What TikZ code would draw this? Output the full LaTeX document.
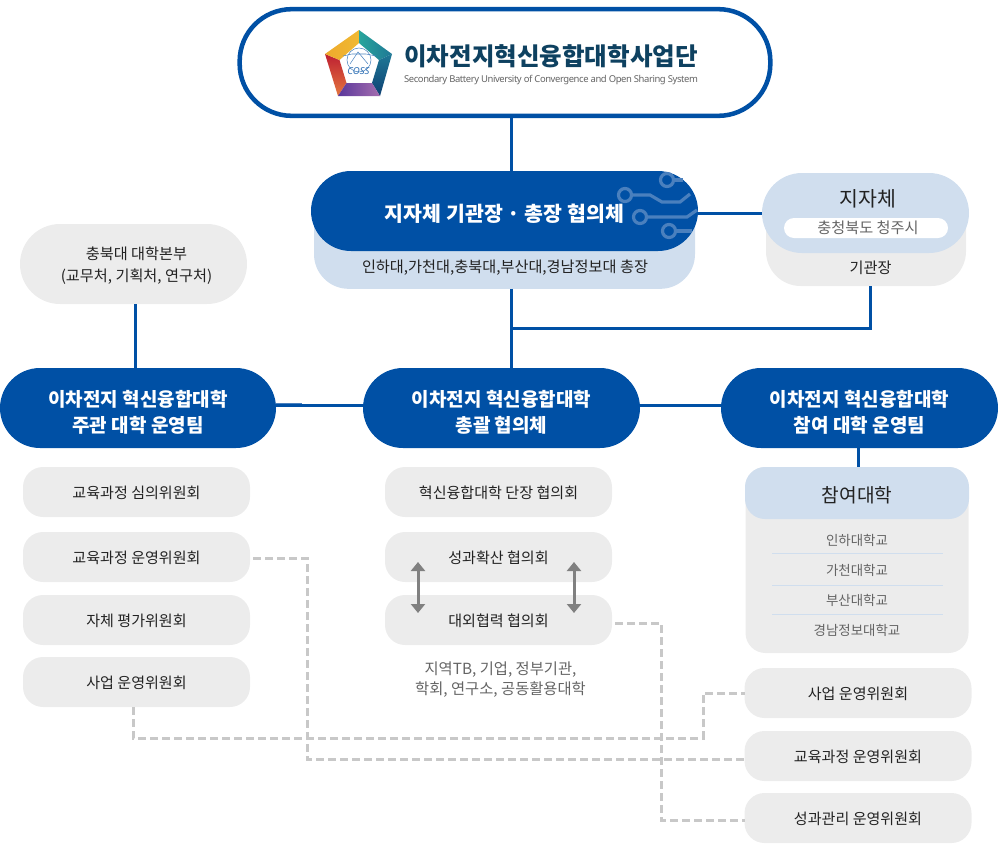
\documentclass[tikz,border=0pt]{standalone}
\usepackage{fontspec}
\setmainfont{Noto Sans CJK KR}
\newfontfamily\latinfont{Noto Sans}
\newfontfamily\latintight[LetterSpace=-4.5]{Noto Sans}
\usetikzlibrary{arrows.meta}

\definecolor{deepblue}{RGB}{0,80,165}
\definecolor{traceblue}{RGB}{74,128,190}
\definecolor{paleblue}{RGB}{208,222,238}
\definecolor{panelgrey}{RGB}{236,236,236}
\definecolor{dashgrey}{RGB}{200,200,200}
\definecolor{arrowgrey}{RGB}{128,128,128}
\definecolor{inkdark}{RGB}{34,34,34}
\definecolor{inkgrey}{RGB}{100,100,100}
\definecolor{titleink}{RGB}{14,65,96}
\definecolor{logored}{RGB}{190,32,50}
\definecolor{logopeach}{RGB}{228,118,62}
\definecolor{logoamber}{RGB}{238,170,45}
\definecolor{logogold}{RGB}{240,185,50}
\definecolor{logoteal}{RGB}{40,165,155}
\definecolor{logosea}{RGB}{30,120,150}
\definecolor{logonavy}{RGB}{15,65,115}
\definecolor{logoplum}{RGB}{90,55,155}
\definecolor{logomauve}{RGB}{165,110,175}

\tikzset{every picture/.style={line width=0.75pt}}
\tikzset{
  pill/.style={inner sep=0pt,outer sep=0pt,align=center,minimum height=60pt,rounded corners=30pt},
  bluepill/.style={pill,fill=deepblue,text=white,text height=38pt,font=\fontsize{14.25}{19.5}\selectfont\bfseries},
  backpanel/.style={inner sep=0pt,outer sep=0pt,rounded corners=26pt},
  smallbox/.style={inner sep=0pt,outer sep=0pt,fill=panelgrey,rounded corners=15pt,minimum width=170.25pt,minimum height=37.5pt,text height=10.5pt,text depth=1pt,text=inkdark,font=\fontsize{11.3}{14}\selectfont},
  link/.style={deepblue,line width=2.25pt},
  dashlink/.style={dashgrey,line width=2.25pt,dash pattern={on 6pt off 3pt}},
  swaplink/.style={arrowgrey,line width=2.25pt,{Triangle[width=10.5pt,length=6.75pt]}-{Triangle[width=10.5pt,length=6.75pt]}},
  schoolname/.style={inner sep=0pt,text=inkgrey,font=\fontsize{10.1}{12}\selectfont},
  trace/.style={traceblue,line width=2.4pt},
  tracemark/.pic={
    \draw [trace] (244.5,399) -- (262,399) -- (276,408);
    \draw [trace] (259.5,421) -- (275,421);
    \draw [trace] (238,399) circle [radius=6.5];
    \draw [trace] (253,421) circle [radius=6.5];
  },
}

\begin{document}
\begin{tikzpicture}[x=0.75pt,y=0.75pt,yscale=-1,xscale=1]
\useasboundingbox (0,0) rectangle (1000,850);

%Shape: Top pill
\draw (505,62.5) node (topPill) [pill,draw=deepblue,fill=white,line width=3.4pt,minimum width=398pt,minimum height=80pt,rounded corners=39pt] {};

%Shape: Logo
\shade [top color=logored,bottom color=logopeach] (325,54) -- (339.5,60) -- (346.5,83) -- (338,96) -- cycle;
\shade [left color=logoamber,right color=logogold] (325,54) -- (359,30) -- (359,43) -- (339.5,60) -- cycle;
\shade [left color=logoteal,right color=logosea] (359,30) -- (392,54) -- (379,60) -- (359,43) -- cycle;
\shade [top color=logosea,bottom color=logonavy] (392,54) -- (380,96) -- (372,83) -- (379,60) -- cycle;
\shade [left color=logoplum,right color=logomauve] (346.5,83) -- (372,83) -- (380,96) -- (338,96) -- cycle;
\draw [deepblue!70,line width=0.4pt] (359,60) circle [radius=12];
\draw [deepblue!70,line width=0.4pt] (343,56) -- (352,54) -- (366,54) -- (376,56);
\draw [deepblue!70,line width=0.4pt] (350,64) -- (358,52) -- (368,64);
\draw (358.5,71) node (logoMark) [inner sep=0pt,text=deepblue!80,font=\latinfont\fontsize{7.2}{7}\selectfont\bfseries\itshape] {COSS};

% Text Node
\draw (551,56) node (titleText) [inner sep=0pt,text=titleink,font=\fontsize{18.4}{20}\selectfont\bfseries] {이차전지혁신융합대학사업단};
% Text Node
\draw (551,80) node (titleSub) [inner sep=0pt,text=inkgrey,font=\latintight\fontsize{7.1}{8}\selectfont] {Secondary Battery University of Convergence and Open Sharing System};

%Shape: Heads council
\draw (504.5,239.5) node (headsBack) [backpanel,fill=paleblue,minimum width=285.75pt,minimum height=74pt] {};
\draw (504.5,211) node (headsPill) [bluepill,minimum width=290.25pt,text height=17pt,font=\fontsize{15.4}{20}\selectfont\bfseries] {지자체 기관장 · 총장 협의체};
\draw (505,268) node (headsNote) [inner sep=0pt,text=inkdark,font=\fontsize{11.4}{14}\selectfont] {인하대,가천대,충북대,부산대,경남정보대 총장};
%Shape: Traces
\draw [trace] (631.5,195) -- (650,195) -- (662,202) -- (680,202) -- (690,194);
\draw [trace] (646.5,217) -- (687,217) -- (697,210);
\draw [trace] (673.5,180) -- (683,180);
\draw [trace] (675.5,231) -- (692,231);
\draw [trace] (625,195) circle [radius=6.5];
\draw [trace] (640,217) circle [radius=6.5];
\draw [trace] (667,180) circle [radius=6.5];
\draw [trace] (669,231) circle [radius=6.5];

%Shape: Local government
\draw (866,238) node (localBack) [backpanel,fill=panelgrey,minimum width=150pt,minimum height=72pt] {};
\draw (865.5,213) node (localPill) [pill,fill=paleblue,minimum width=155.25pt] {};
% Text Node
\draw (868,199) node (localName) [inner sep=0pt,text=inkdark,font=\fontsize{15.4}{18}\selectfont] {지자체};
\draw (866,228) node (localCity) [inner sep=0pt,outer sep=0pt,fill=white,rounded corners=7.5pt,minimum width=123pt,minimum height=15pt] {};
% Text Node
\draw (868,228) node (localCityName) [inner sep=0pt,text=inkgrey,font=\fontsize{11.4}{14}\selectfont] {충청북도 청주시};
\draw (870.5,268) node (localHead) [inner sep=0pt,text=inkdark,font=\fontsize{11.4}{14}\selectfont] {기관장};

%Shape: Main campus
\draw (133.5,264) node (mainOffice) [pill,fill=panelgrey,minimum width=170.25pt] {};
% Text Node
\draw (136.5,265.5) node (mainOfficeName) [inner sep=0pt,align=center,text=inkdark,font=\fontsize{11.4}{16.5}\selectfont] {충북대 대학본부\\(교무처, 기획처, 연구처)};

%Shape: Three teams
\draw (138,408) node (hostTeam) [bluepill,minimum width=207pt] {이차전지 혁신융합대학\\주관 대학 운영팀};
\draw (501.5,408) node (hubTeam) [bluepill,minimum width=207.75pt] {이차전지 혁신융합대학\\총괄 협의체};
\draw (859.5,408) node (partTeam) [bluepill,minimum width=207.75pt] {이차전지 혁신융합대학\\참여 대학 운영팀};
\pic at (0,0) {tracemark};
\pic at (363,0) {tracemark};
\pic at (721,0) {tracemark};

%Shape: Left column
\draw (136.5,492) node (hostCurr) [smallbox] {교육과정 심의위원회};
\draw (136.5,557) node (hostEdu) [smallbox] {교육과정 운영위원회};
\draw (136.5,620) node (hostEval) [smallbox] {자체 평가위원회};
\draw (136.5,682) node (hostBiz) [smallbox] {사업 운영위원회};

%Shape: Middle column
\draw (498.5,492) node (hubDean) [smallbox] {혁신융합대학 단장 협의회};
\draw (498.5,557) node (hubSpread) [smallbox] {성과확산 협의회};
\draw (498.5,620) node (hubOuter) [smallbox] {대외협력 협의회};
% Text Node
\draw (500.5,680) node (hubNote) [inner sep=0pt,align=center,text=inkgrey,font=\fontsize{11.5}{15}\selectfont] {지역TB, 기업, 정부기관,\\학회, 연구소, 공동활용대학};

%Shape: Partner schools
\draw (857,560) node (schoolBack) [inner sep=0pt,outer sep=0pt,fill=panelgrey,rounded corners=15pt,minimum width=167.25pt,minimum height=139.5pt] {};
\draw (857,493) node (schoolHead) [inner sep=0pt,outer sep=0pt,fill=paleblue,rounded corners=15pt,minimum width=168pt,minimum height=39pt] {};
% Text Node
\draw (857,495) node (schoolTitle) [inner sep=0pt,text=inkdark,font=\fontsize{14.4}{18}\selectfont] {참여대학};
\draw (857,540.5) node (schoolA) [schoolname] {인하대학교};
\draw (857,570.5) node (schoolB) [schoolname] {가천대학교};
\draw (857,600.5) node (schoolC) [schoolname] {부산대학교};
\draw (857,630.5) node (schoolD) [schoolname] {경남정보대학교};
\draw [paleblue,line width=0.75pt] (772,553.5) -- (943,553.5);
\draw [paleblue,line width=0.75pt] (772,585.5) -- (943,585.5);
\draw [paleblue,line width=0.75pt] (772,614.5) -- (943,614.5);

%Shape: Right column
\draw (858,693) node (partBiz) [smallbox] {사업 운영위원회};
\draw (858,756) node (partEdu) [smallbox] {교육과정 운영위원회};
\draw (858,818) node (partEval) [smallbox] {성과관리 운영위원회};

%Straight Lines
\coordinate (hubLine) at (511,328);
\coordinate (localLine) at (870,328);
\draw [link] (topPill.south -| hubLine) -- (headsPill.north -| hubLine);
\draw [link] (headsBack.south -| hubLine) -- (hubTeam.north -| hubLine);
\draw [link] (headsPill.east |- localPill.center) -- (localPill.west);
\draw [link] (localBack.south -| localLine) -- (localLine) -- (hubLine);
\draw [link] (mainOffice.south -| 135,0) -- (hostTeam.north -| 135,0);
\draw [link] (hostTeam.east |- 0,405) -- (hubTeam.west |- 0,405);
\draw [link] (hubTeam.east |- 0,405) -- (partTeam.west |- 0,405);
\draw [link] (partTeam.south -| 858,0) -- (schoolHead.north -| 858,0);
\draw [traceblue,line width=0.6pt] (hostTeam.east |- 0,403.5) -- (302,403.5);

%Straight Lines
\draw [swaplink] (hubSpread.south -| 418,0) ++(0,-20) -- ++(0,51);
\draw [swaplink] (hubSpread.south -| 574,0) ++(0,-20) -- ++(0,51);

%Straight Lines
\coordinate (eduBend) at (307,759);
\coordinate (bizBend) at (703,738);
\coordinate (evalBend) at (661,820);
\draw [dashlink] ([xshift=2.25pt,yshift=0.75pt]hostEdu.east) -| (eduBend) -- (partEdu.west |- eduBend);
\draw [dashlink] (hostBiz.south -| 133,0) |- (bizBend) |- (partBiz.west);
\draw [dashlink] ([xshift=2.25pt,yshift=2.25pt]hubOuter.east) -| (evalBend) -- (partEval.west |- evalBend);

\end{tikzpicture}
\end{document}
